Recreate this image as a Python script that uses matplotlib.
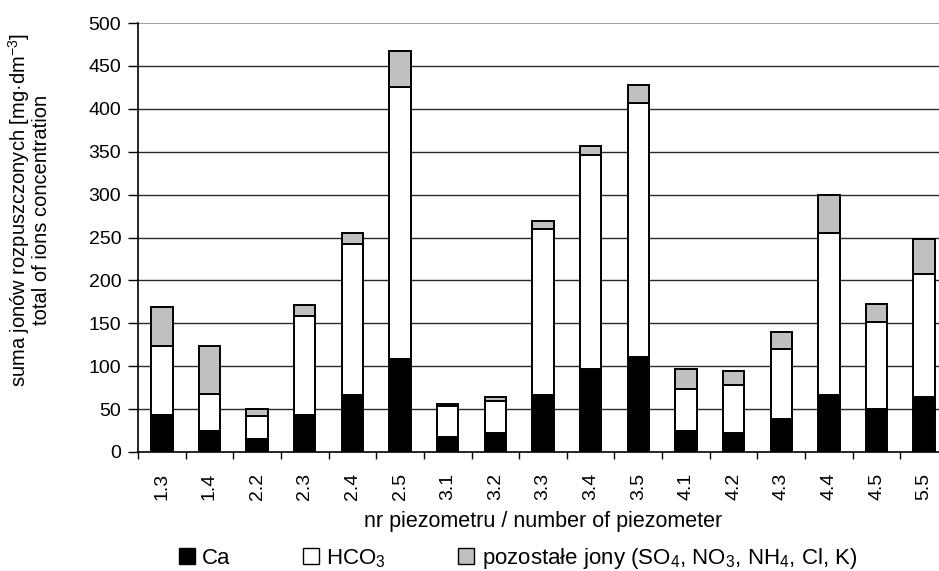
import numpy as np
import matplotlib
matplotlib.use('Agg')
from matplotlib import pyplot as plt
from matplotlib.patches import Patch

plt.rcParams['font.family'] = ['Liberation Sans', 'DejaVu Sans']
plt.rcParams['mathtext.fontset'] = 'custom'
plt.rcParams['mathtext.rm'] = 'Liberation Sans'
plt.rcParams['mathtext.it'] = 'Liberation Sans:italic'
plt.rcParams['mathtext.default'] = 'regular'

# ---------------------- data: ion sums per piezometer [mg/dm3] ----------------------
piezometers = ['1.3', '1.4', '2.2', '2.3', '2.4', '2.5', '3.1', '3.2', '3.3',
               '3.4', '3.5', '4.1', '4.2', '4.3', '4.4', '4.5', '5.5']
ca = [43, 24.5, 15, 43, 66, 108, 17.5, 22, 66, 97, 111, 24, 22, 38.5, 66, 50, 64.5]
hco3 = [81, 43.5, 27.5, 116, 177, 317, 36.5, 37, 193.5, 249, 295.5, 49, 56, 81, 189, 102, 143.5]
other = [45, 56, 7.5, 12, 12, 42, 2.5, 5, 9.5, 11, 21, 23.5, 16, 20, 44, 20.5, 40]

x = np.arange(len(piezometers))
bottom2 = np.array(ca) + np.array(hco3)

fig = plt.figure(figsize=(9.39, 5.71), dpi=100)
ax = fig.add_axes([138 / 939, 1 - 452 / 571, (948 - 138) / 939, (452 - 23) / 571])

w = 0.45
ax.bar(x, ca, w, color='black', edgecolor='black', linewidth=1.4, zorder=3)
ax.bar(x, hco3, w, bottom=ca, color='white', edgecolor='black', linewidth=1.4, zorder=3)
ax.bar(x, other, w, bottom=bottom2, color='#c0c0c0', edgecolor='black', linewidth=1.4, zorder=3)

ax.set_xlim(-0.5, len(piezometers) - 0.5)
ax.set_ylim(0, 500)
ax.set_yticks(np.arange(0, 501, 50))
# horizontal grid, the top line drawn lighter
for yv in np.arange(50, 451, 50):
    ax.axhline(yv, color='#2a2a2a', linewidth=1.0, zorder=0)
ax.axhline(500, color='#999999', linewidth=1.3, zorder=0)

ax.set_xticks(x)
ax.set_xticklabels(piezometers, rotation=90, fontsize=14)
ax.set_xticks(np.arange(-0.5, len(piezometers), 1), minor=True)
ax.tick_params(axis='x', which='major', length=0, pad=15)
ax.tick_params(axis='x', which='minor', length=5, width=1)
ax.tick_params(axis='y', length=7, width=1, labelsize=14, pad=5)

for side in ['top', 'right']:
    ax.spines[side].set_visible(False)
ax.spines['left'].set_linewidth(1.2)
ax.spines['bottom'].set_linewidth(1.2)

ax.set_ylabel('suma jonów rozpuszczonych [mg·dm$^{-3}$]\ntotal of ions concentration',
              fontsize=14.5, linespacing=1.0)
ax.yaxis.set_label_coords(-0.108, 0.565)
ax.set_xlabel('nr piezometru / number of piezometer', fontsize=15.5)
ax.xaxis.set_label_coords(0.5, -0.138)

handles = [Patch(facecolor='black', edgecolor='black', label='Ca'),
           Patch(facecolor='white', edgecolor='black', label='HCO$_3$'),
           Patch(facecolor='#c0c0c0', edgecolor='black',
                 label='pozostałe jony (SO$_4$, NO$_3$, NH$_4$, Cl, K)')]
fig.legend(handles=handles, loc='lower left', bbox_to_anchor=(179 / 939, 0.0), ncol=3,
           frameon=False, fontsize=16, handlelength=0.7, handleheight=0.7,
           handletextpad=0.35, columnspacing=3.25, borderaxespad=0, borderpad=0)

fig.savefig('out.png', dpi=100)
